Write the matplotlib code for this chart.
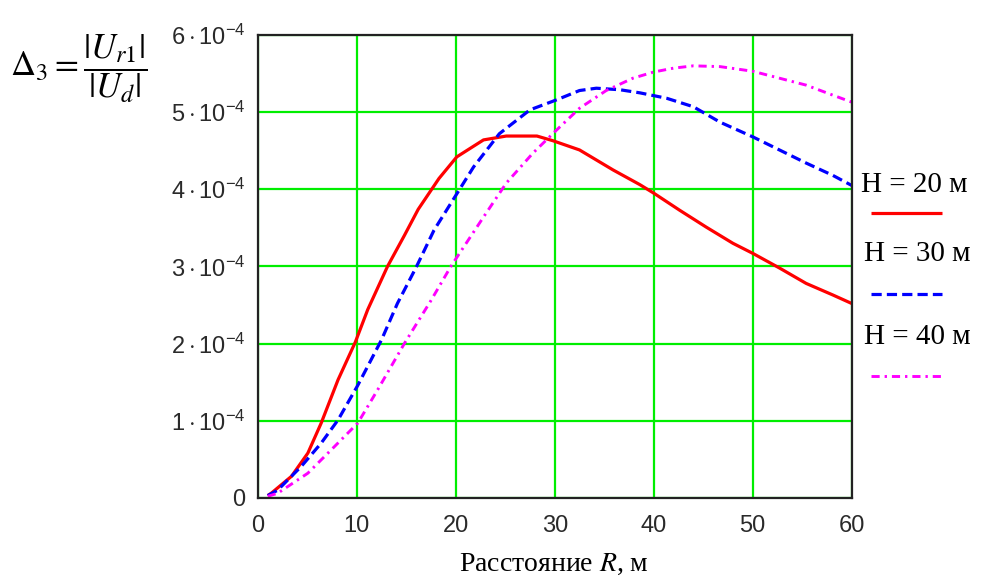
import numpy as np
import matplotlib
matplotlib.use("Agg")
import matplotlib.pyplot as plt
from matplotlib.lines import Line2D

plt.rcParams['mathtext.fontset'] = 'custom'
plt.rcParams['mathtext.rm'] = 'Liberation Sans'
plt.rcParams['mathtext.it'] = 'Liberation Sans:italic'

# distance R, m  /  |Ur1|/|Ud| (x 1e-4) for three heights
r_20 = [1.0, 1.35, 3.4, 5.05, 6.4, 8.1, 9.85, 11.1, 13.1, 14.8, 16.2, 18.3, 20.1, 22.8,
        25.1, 28.2, 29.8, 32.5, 35.9, 38.6, 40.0, 42.6, 45.3, 48.0, 50.0, 52.7, 55.4,
        58.1, 60.0]
d_20 = [0.03, 0.06, 0.28, 0.58, 0.97, 1.53, 2.02, 2.44, 3.00, 3.40, 3.74, 4.14, 4.42, 4.64,
        4.69, 4.69, 4.63, 4.51, 4.25, 4.06, 3.95, 3.73, 3.51, 3.30, 3.17, 2.98, 2.78,
        2.63, 2.52]

r_30 = [1.0, 2.0, 4.4, 6.4, 8.1, 10.1, 12.5, 14.1, 16.0, 17.8, 19.9, 21.8, 24.4, 27.5,
        30.2, 32.5, 34.2, 36.6, 38.6, 41.3, 44.0, 46.7, 50.0, 52.7, 55.4, 58.1, 60.0]
d_30 = [0.03, 0.10, 0.41, 0.71, 1.01, 1.46, 2.05, 2.52, 2.99, 3.47, 3.90, 4.29, 4.72, 5.03,
        5.16, 5.28, 5.31, 5.29, 5.25, 5.18, 5.07, 4.87, 4.68, 4.51, 4.34, 4.18, 4.05]

r_40 = [1.0, 2.0, 5.05, 7.7, 10.1, 12.1, 14.8, 17.5, 19.5, 22.8, 25.1, 27.8, 30.2, 32.5,
        35.2, 37.9, 40.0, 42.0, 44.0, 46.7, 50.0, 52.7, 55.4, 58.1, 60.0]
d_40 = [0.02, 0.06, 0.32, 0.66, 0.97, 1.40, 2.00, 2.56, 3.00, 3.64, 4.08, 4.47, 4.77, 5.05,
        5.28, 5.44, 5.52, 5.57, 5.60, 5.59, 5.53, 5.44, 5.35, 5.22, 5.13]

x_ticks = [0, 10, 20, 30, 40, 50, 60]
y_ticks = [0, 1, 2, 3, 4, 5, 6]
legend_labels = ["H = 20 м", "H = 30 м", "H = 40 м"]

fig = plt.figure(figsize=(9.88, 5.83), dpi=100)
ax = fig.add_axes([0.261, 0.146, 0.601, 0.794])

styles = [dict(color='#ff0000', lw=2.3, solid_capstyle='butt'),
          dict(color='#0000ff', lw=2.3, dashes=(3.2, 1.6)),
          dict(color='#ff00ff', lw=2.1, dashes=(2.8, 1.7, 0.8, 1.7))]

scale = 1e-4
for r, d, st in zip([r_20, r_30, r_40], [d_20, d_30, d_40], styles):
    ax.plot(r, np.array(d) * scale, **st)

ax.set_xlim(0, 60)
ax.set_ylim(0, 6e-4)
ax.set_xticks(x_ticks)
ax.set_yticks([v * scale for v in y_ticks])
ax.set_xticklabels([str(v) for v in x_ticks])
ax.set_yticklabels(["0"] + [r"$%d\cdot10^{-4}$" % v for v in y_ticks[1:]])
ax.tick_params(length=0, labelsize=17, labelcolor='#2a2a2a')
ax.tick_params(axis='x', pad=12)
ax.tick_params(axis='y', pad=9)
for lab in ax.get_xticklabels() + ax.get_yticklabels():
    lab.set_family('Liberation Sans')
ax.grid(True, color='#00ee00', lw=1.6)
ax.set_axisbelow(True)
for sp in ax.spines.values():
    sp.set_color('#222222')
    sp.set_linewidth(1.6)

# axis titles
fig.text(0.08, 0.882, r"$\Delta_3 = \dfrac{|U_{r1}|}{|U_d|}$", fontsize=25,
         math_fontfamily='stix', ha='center', va='center')
fig.text(0.561, 0.032, r"Расстояние $R$, м", fontsize=20, family='Liberation Serif',
         math_fontfamily='stix', ha='center', va='center')

# legend: caption above each line sample
text_y = [0.683, 0.564, 0.422]
line_y = [0.634, 0.495, 0.355]
text_x = [0.871, 0.874, 0.874]
for lab, st, ty, ly, tx in zip(legend_labels, styles, text_y, line_y, text_x):
    fig.text(tx, ty, lab, fontsize=21, family='Liberation Serif', ha='left', va='center')
    fig.add_artist(Line2D([0.882, 0.953], [ly, ly], transform=fig.transFigure, **st))

fig.savefig("out.png", dpi=100)
